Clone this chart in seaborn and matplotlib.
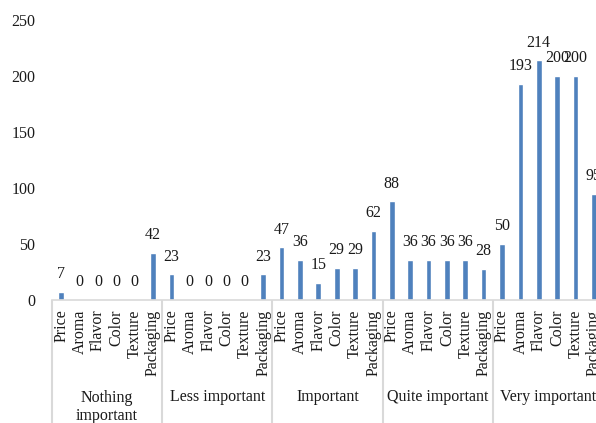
import matplotlib
matplotlib.use("Agg")
import matplotlib.pyplot as plt
import matplotlib.transforms as mtransforms
import pandas as pd
import seaborn as sns

# Survey counts: how important each attribute is to respondents
groups = ["Nothing\nimportant", "Less important", "Important", "Quite important", "Very important"]
attributes = ["Price", "Aroma", "Flavor", "Color", "Texture", "Packaging"]
nothing_important = [7, 0, 0, 0, 0, 42]
less_important = [23, 0, 0, 0, 0, 23]
important = [47, 36, 15, 29, 29, 62]
quite_important = [88, 36, 36, 36, 36, 28]
very_important = [50, 193, 214, 200, 200, 95]
y_ticks = [0, 50, 100, 150, 200, 250]

series = [nothing_important, less_important, important, quite_important, very_important]
rows = []
for g, vals in zip(groups, series):
    for a, v in zip(attributes, vals):
        rows.append({"group": g, "attribute": a, "slot": f"{g}|{a}", "count": v})
df = pd.DataFrame(rows)

sns.set_style("white")
plt.rcParams["font.family"] = ["Liberation Serif", "DejaVu Serif"]
plt.rcParams["font.size"] = 11.5

BAR = "#4F81BD"
GRID = "#D9D9D9"
TEXT = "#1A1A1A"

fig = plt.figure(figsize=(5.96, 4.23), dpi=100)
ax = fig.add_axes([52 / 596, 123 / 423, 551 / 596, 280 / 423])

sns.barplot(data=df, x="slot", y="count", order=list(df["slot"]),
            color=BAR, saturation=1, width=0.31, ax=ax)

for c in ax.containers:
    ax.bar_label(c, labels=[str(v) for v in df["count"]], padding=7,
                 fontsize=11.5, color=TEXT)

ax.set_xlim(-0.5, len(df) - 0.5)
ax.set_ylim(0, 250)
ax.set_yticks(y_ticks)
ax.set_yticklabels([str(t) for t in y_ticks], fontsize=11.5, color=TEXT)
ax.set_xticks(range(len(df)))
ax.set_xticklabels(list(df["attribute"]), rotation=90, fontsize=11.5,
                   va="top", color=TEXT)
ax.set_xlabel("")
ax.set_ylabel("")
ax.tick_params(axis="both", length=0)
ax.tick_params(axis="x", pad=7)
ax.tick_params(axis="y", pad=12)

for s in ["top", "right", "left"]:
    ax.spines[s].set_visible(False)
ax.spines["bottom"].set_color(GRID)
ax.spines["bottom"].set_linewidth(1.2)

# Group dividers and group names below the attribute labels
trans = mtransforms.blended_transform_factory(ax.transData, ax.transAxes)
n = len(attributes)
for i in range(len(groups) + 1):
    b = i * n - 0.5
    ax.plot([b, b], [0, -0.45], transform=trans, color=GRID, lw=1.5,
            clip_on=False, solid_capstyle="butt")
for i, g in enumerate(groups):
    center = i * n + (n - 1) / 2
    ypos = -0.382 if "\n" in g else -0.346
    ax.text(center, ypos, g, transform=trans, ha="center", va="center",
            fontsize=11.5, linespacing=1.15, color=TEXT)

fig.savefig("out.png", dpi=100)
